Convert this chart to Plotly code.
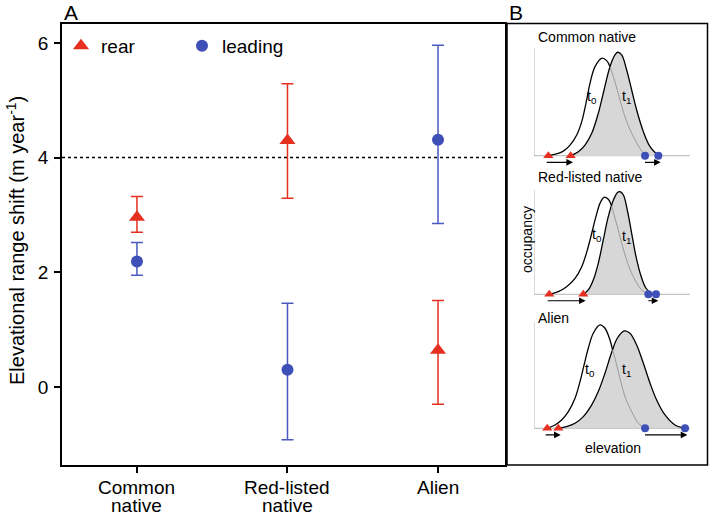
import plotly.graph_objects as go

# ---------------- Panel A data ----------------
group_pos = [1, 2, 3]
group_labels = ["Common<br>native", "Red-listed<br>native", "Alien"]

rear_mean = [2.96, 4.30, 0.64]
rear_upper = [3.32, 5.29, 1.51]
rear_lower = [2.70, 3.29, -0.30]

lead_mean = [2.19, 0.30, 4.31]
lead_upper = [2.52, 1.46, 5.96]
lead_lower = [1.95, -0.92, 2.85]

reference_shift = 4.0
y_ticks = [0, 2, 4, 6]

# ---------------- Panel B data (schematic occupancy curves) ----------------
inset_titles = ["Common native", "Red-listed native", "Alien"]

cn_t0_e = [9.2, 14.5, 18.8, 23.1, 27.4, 30.6, 33.3, 35.9, 39.1, 43.4, 46.6, 48.7, 51.9, 55.1, 59.4, 63.7, 67.9, 71.2]
cn_t0_o = [0.0, 0.016, 0.043, 0.099, 0.193, 0.317, 0.488, 0.674, 0.829, 0.907, 0.885, 0.829, 0.689, 0.519, 0.317, 0.177, 0.068, 0.0]
cn_t1_e = [23.5, 28.4, 32.7, 37.0, 41.2, 44.9, 48.7, 51.9, 53.6, 56.2, 59.4, 62.6, 65.8, 70.1, 74.4, 79.7]
cn_t1_o = [0.0, 0.037, 0.099, 0.208, 0.394, 0.612, 0.829, 0.938, 0.963, 0.938, 0.798, 0.612, 0.425, 0.224, 0.084, 0.0]
cn_cross = 48.7

rl_t0_e = [9.8, 15.6, 20.9, 26.3, 30.6, 34.2, 37.0, 39.7, 42.3, 44.9, 47.6, 49.8, 53.4, 56.8, 60.5, 64.7, 69.0, 73.3]
rl_t0_o = [0.0, 0.026, 0.073, 0.153, 0.265, 0.425, 0.585, 0.744, 0.872, 0.930, 0.911, 0.847, 0.649, 0.457, 0.281, 0.137, 0.042, 0.0]
rl_t1_e = [31.6, 34.8, 38.0, 41.2, 44.4, 47.6, 50.9, 53.4, 55.1, 57.3, 59.8, 62.6, 65.4, 68.4, 71.8, 75.4, 78.2]
rl_t1_o = [0.0, 0.042, 0.137, 0.297, 0.521, 0.744, 0.904, 0.974, 0.984, 0.952, 0.808, 0.585, 0.361, 0.185, 0.058, 0.010, 0.0]
rl_cross = 49.8

al_t0_e = [8.5, 13.5, 17.7, 22.0, 26.3, 29.5, 32.1, 34.8, 38.0, 42.3, 45.5, 48.7, 50.4, 51.9, 55.1, 58.3, 62.6, 66.9, 71.2]
al_t0_o = [0.0, 0.031, 0.078, 0.156, 0.281, 0.438, 0.594, 0.75, 0.891, 0.969, 0.938, 0.828, 0.734, 0.656, 0.469, 0.297, 0.156, 0.047, 0.0]
al_t1_e = [15.6, 20.9, 26.3, 31.6, 37.0, 41.2, 45.5, 49.8, 53.4, 57.9, 61.5, 65.8, 70.1, 74.4, 78.6, 84.0, 90.4, 96.8]
al_t1_o = [0.0, 0.016, 0.047, 0.109, 0.219, 0.344, 0.516, 0.713, 0.844, 0.913, 0.891, 0.781, 0.609, 0.422, 0.266, 0.125, 0.031, 0.0]
al_cross = 50.4

insets = [
    (cn_t0_e, cn_t0_o, cn_t1_e, cn_t1_o, cn_cross),
    (rl_t0_e, rl_t0_o, rl_t1_e, rl_t1_o, rl_cross),
    (al_t0_e, al_t0_o, al_t1_e, al_t1_o, al_cross),
]
t_label_pos = [((37.4, 0.55), (59.4, 0.55)),
               ((40.2, 0.57), (59.4, 0.55)),
               ((35.9, 0.55), (59.4, 0.55))]

# ---------------- Styles ----------------
W, H = 709, 517
RED = "#E5301F"
BLUE = "#3F4FB8"
FONT = "Liberation Sans, Arial, Helvetica, sans-serif"


def px_x(p):
    return p / W


def px_y(p):
    return 1 - p / H


fig = go.Figure()

# Panel A traces
fig.add_trace(go.Scatter(
    x=group_pos, y=rear_mean, mode="markers", name="rear",
    marker=dict(symbol="triangle-up", size=14, color=RED),
    error_y=dict(type="data", symmetric=False,
                 array=[u - m for u, m in zip(rear_upper, rear_mean)],
                 arrayminus=[m - l for m, l in zip(rear_mean, rear_lower)],
                 color=RED, thickness=1.5, width=6),
    xaxis="x", yaxis="y"))
fig.add_trace(go.Scatter(
    x=group_pos, y=lead_mean, mode="markers", name="leading",
    marker=dict(symbol="circle", size=12, color=BLUE),
    error_y=dict(type="data", symmetric=False,
                 array=[u - m for u, m in zip(lead_upper, lead_mean)],
                 arrayminus=[m - l for m, l in zip(lead_mean, lead_lower)],
                 color="#4A5AC0", thickness=1.5, width=6),
    xaxis="x", yaxis="y"))

# inset domains (pixel based)
x_dom = [px_x(534), px_x(690)]
y_doms = [
    [px_y(155.7 + 0.12 * 107.4), px_y(48.3)],
    [px_y(294.3 + 0.12 * 104.3), px_y(190.0)],
    [px_y(428.3 + 0.12 * 106.7), px_y(321.6)],
]

annotations = []
shapes = []


def txt(x, y, text, size, angle=0, xanchor="center", yanchor="middle"):
    return dict(x=px_x(x), y=px_y(y), xref="paper", yref="paper", text=text,
                textangle=angle, xanchor=xanchor, yanchor=yanchor, showarrow=False,
                font=dict(size=size, color="black", family=FONT))


# category labels of panel A (two lines, tight spacing)
for pos, lab in zip(group_pos, group_labels):
    for li, line in enumerate(lab.split("<br>")):
        annotations.append(dict(x=pos, y=px_y(487 + 18 * li), xref="x", yref="paper",
                                text=line, showarrow=False, xanchor="center",
                                yanchor="middle",
                                font=dict(size=19, color="black", family=FONT)))

for k, (t0e, t0o, t1e, t1o, cross) in enumerate(insets):
    xa = "x%d" % (k + 2)
    ya = "y%d" % (k + 2)
    ci = t0e.index(cross)
    # t1 filled curve
    fig.add_trace(go.Scatter(
        x=t1e, y=t1o, mode="lines", fill="tozeroy", fillcolor="#D7D7D7",
        line=dict(color="black", width=1.3, shape="spline", smoothing=1.0),
        showlegend=False, hoverinfo="skip", xaxis=xa, yaxis=ya))
    # t0 black part
    fig.add_trace(go.Scatter(
        x=t0e[:ci + 1], y=t0o[:ci + 1], mode="lines",
        line=dict(color="black", width=1.3, shape="spline", smoothing=1.0),
        showlegend=False, hoverinfo="skip", xaxis=xa, yaxis=ya))
    # t0 grey part
    fig.add_trace(go.Scatter(
        x=t0e[ci:], y=t0o[ci:], mode="lines",
        line=dict(color="#9A9A9A", width=1.0, shape="spline", smoothing=1.0),
        showlegend=False, hoverinfo="skip", xaxis=xa, yaxis=ya))
    # range edges
    fig.add_trace(go.Scatter(
        x=[t0e[0], t1e[0]], y=[0, 0], mode="markers",
        marker=dict(symbol="triangle-up", size=9, color=RED),
        showlegend=False, hoverinfo="skip", xaxis=xa, yaxis=ya, cliponaxis=False))
    fig.add_trace(go.Scatter(
        x=[t0e[-1], t1e[-1]], y=[0, 0], mode="markers",
        marker=dict(symbol="circle", size=8, color=BLUE),
        showlegend=False, hoverinfo="skip", xaxis=xa, yaxis=ya, cliponaxis=False))
    # axes of inset
    shapes.append(dict(type="line", xref=xa, yref=ya, x0=0, x1=100, y0=0, y1=0,
                       line=dict(color="#B5B5B5", width=1), layer="below"))
    shapes.append(dict(type="line", xref=xa, yref=ya, x0=0, x1=0, y0=0, y1=1,
                       line=dict(color="#B5B5B5", width=1), layer="below"))
    # arrows
    for s, e in [(t0e[0] - 2.0, t1e[0] + 1.5), (t0e[-1] - 1.0, t1e[-1] + 1.5)]:
        annotations.append(dict(x=e, y=-0.062, ax=s, ay=-0.062, xref=xa, yref=ya,
                                axref=xa, ayref=ya, showarrow=True, arrowhead=2,
                                arrowsize=1.1, arrowwidth=1.2, arrowcolor="black",
                                text=""))
    # t labels
    (l0x, l0y), (l1x, l1y) = t_label_pos[k]
    annotations.append(dict(x=l0x, y=l0y, xref=xa, yref=ya, text="t<sub>0</sub>",
                            showarrow=False, font=dict(size=14, color="black", family=FONT)))
    annotations.append(dict(x=l1x, y=l1y, xref=xa, yref=ya, text="t<sub>1</sub>",
                            showarrow=False, font=dict(size=14, color="black", family=FONT)))

# inset titles
for title, ty in zip(inset_titles, [37, 177, 318]):
    annotations.append(txt(536, ty, title, 14, xanchor="left"))
annotations.append(txt(527, 240, "occupancy", 14, angle=-90))
annotations.append(txt(613, 448, "elevation", 14))

# panel letters
annotations.append(txt(62, 12.5, "A", 21, xanchor="left"))
annotations.append(txt(507, 12.5, "B", 21, xanchor="left"))

# y axis title
annotations.append(txt(15, 241, "Elevational range shift (m year<sup>-1</sup>)", 20, angle=-90))

# reference dotted line
shapes.append(dict(type="line", xref="x domain", yref="y", x0=0, x1=1,
                   y0=reference_shift, y1=reference_shift,
                   line=dict(color="black", width=1.5, dash="dot"), layer="below"))
# panel B box
shapes.append(dict(type="rect", xref="paper", yref="paper",
                   x0=px_x(507), x1=px_x(707.5), y0=px_y(465), y1=px_y(23.5),
                   line=dict(color="black", width=1.5)))

inset_axis = dict(visible=False, range=[0, 100], domain=x_dom, fixedrange=True)

fig.update_layout(
    width=W, height=H,
    margin=dict(l=0, r=0, t=0, b=0),
    paper_bgcolor="white", plot_bgcolor="white",
    font=dict(family=FONT, size=19, color="black"),
    xaxis=dict(domain=[px_x(62), px_x(505)], range=[0.502, 3.445],
               tickvals=group_pos, showticklabels=False,
               ticks="outside", ticklen=6, tickwidth=1.5, tickcolor="black",
               showline=True, linecolor="black", linewidth=1.5, mirror=True,
               showgrid=False, zeroline=False, automargin=False),
    yaxis=dict(domain=[px_y(465), px_y(24)], range=[-1.36, 6.33],
               tickvals=y_ticks, ticks="outside", ticklen=6, tickwidth=1.5,
               tickcolor="black", showline=True, linecolor="black", linewidth=1.5,
               mirror=True, showgrid=False, zeroline=False, ticklabelstandoff=2,
               automargin=False, tickfont=dict(size=19)),
    xaxis2=dict(inset_axis, anchor="y2"),
    yaxis2=dict(visible=False, range=[-0.12, 1.0], domain=y_doms[0], anchor="x2"),
    xaxis3=dict(inset_axis, anchor="y3"),
    yaxis3=dict(visible=False, range=[-0.12, 1.0], domain=y_doms[1], anchor="x3"),
    xaxis4=dict(inset_axis, anchor="y4"),
    yaxis4=dict(visible=False, range=[-0.12, 1.0], domain=y_doms[2], anchor="x4"),
    showlegend=True,
    legend=dict(orientation="h", x=px_x(61), y=px_y(27), xanchor="left", yanchor="top",
                bgcolor="rgba(0,0,0,0)", font=dict(size=19),
                entrywidth=76, entrywidthmode="pixels", itemclick=False),
    annotations=annotations,
    shapes=shapes,
)

fig.write_html("out.html", config={"displayModeBar": False, "responsive": False},
               post_script="document.body.style.margin='0px';")
